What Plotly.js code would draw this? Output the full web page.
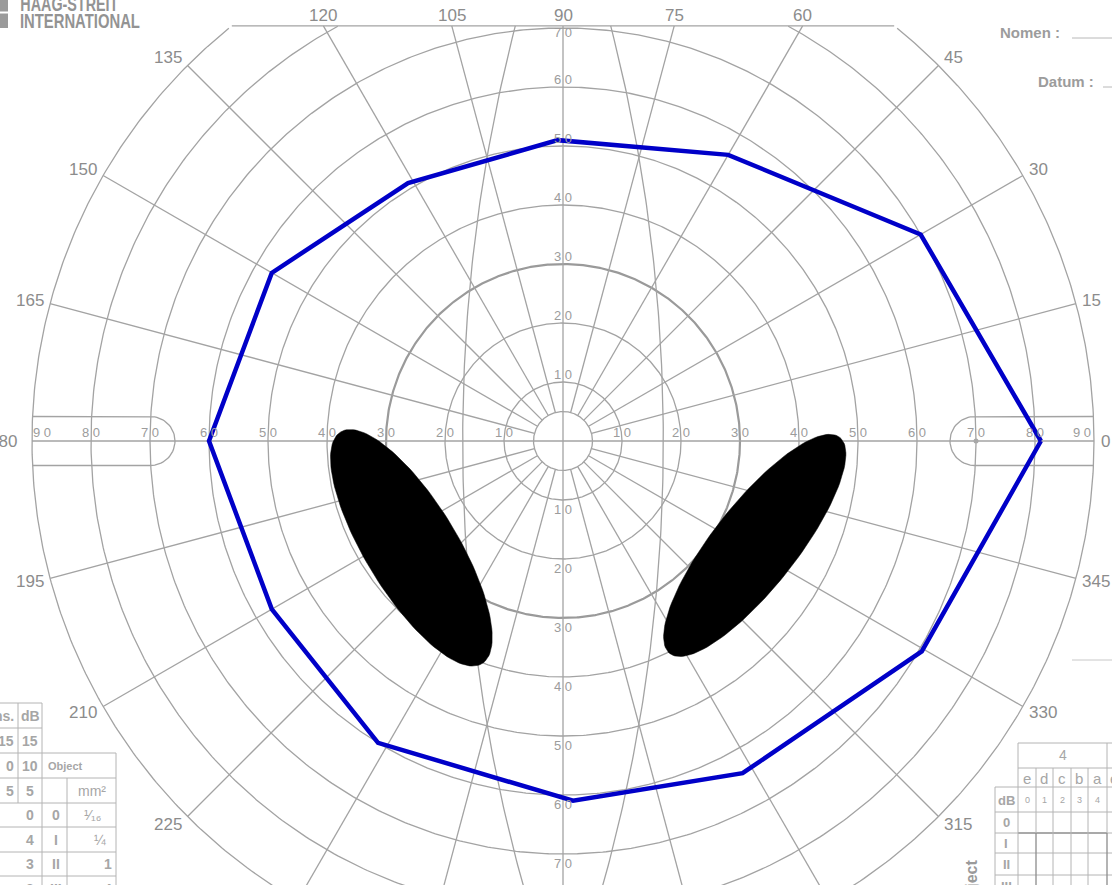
<!DOCTYPE html>
<html><head><meta charset="utf-8">
<script src="https://cdn.plot.ly/plotly-3.0.1.min.js"></script>
<style>html,body{margin:0;padding:0;background:#fff;overflow:hidden}#chart{width:1112px;height:885px}</style>
</head><body><div id="chart"></div>
<script>
// ---------------- data ----------------
// isopter vertices: meridian (deg) and eccentricity (deg)
const isopterMeridian     = [0, 30, 60, 91, 121, 150, 180, 210, 238.5, 271.6, 298.4, 329.6];
const isopterEccentricity = [81, 70, 56, 51, 51, 57, 60, 57, 60, 61, 64, 70.5];
// scotomas (filled ellipses): centre (deg), semi-axes (deg), tilt of major axis (deg)
const scotomaX     = [-25.7, 32.5];
const scotomaY     = [-18.1, -17.7];
const scotomaMajor = [23.0, 23.3];
const scotomaMinor = [7.8, 7.1];
const scotomaTilt  = [121.4, 51.8];
// chart grid
const ringValues     = [5, 10, 20, 30, 40, 50, 60, 70, 80, 90];
const ringLabelVals  = [10, 20, 30, 40, 50, 60, 70, 80, 90];
const ringLabelText  = ['1 0','2 0','3 0','4 0','5 0','6 0','7 0','8 0','9 0'];
const meridianAngles = [0,15,30,45,60,75,90,105,120,135,150,165,180,195,210,225,240,255,270,285,300,315,330,345];
const meridianLabels = ['0','15','30','45','60','75','90','105','120','135','150','165','180','195','210','225','240','255','270','285','300','315','330','345'];

// ---------------- geometry ----------------
const W = 1112, H = 885, CX = 563, CY = 441, S = 5.9;
const TOP = 70.35;           // upper edge of the printed form (deg)
const OUTER = 90;
const GRID = '#a3a3a3';
const TXT = '#969696';
const rad = d => d * Math.PI / 180;
const px = xp => (xp - CX) / S;
const py = yp => (CY - yp) / S;
const PX = xp => xp / W;
const PY = yp => 1 - yp / H;

const traces = [];
function lineTrace(xs, ys, color, width) {
  traces.push({type:'scatter', mode:'lines', x:xs, y:ys, line:{color:color, width:width},
               hoverinfo:'skip', showlegend:false, connectgaps:false});
}

// rings
function ringPts(r, xs, ys) {
  let open = false;
  for (let k = 0; k <= 720; k++) {
    const t = rad(k * 0.5);
    const x = r * Math.cos(t), y = r * Math.sin(t);
    if (y > TOP) { if (open) { xs.push(null); ys.push(null); open = false; } continue; }
    xs.push(x); ys.push(y); open = true;
  }
  xs.push(null); ys.push(null);
}
{
  const xs = [], ys = [];
  ringValues.filter(r => r !== 30).forEach(r => ringPts(r, xs, ys));
  lineTrace(xs, ys, GRID, 1.3);
  const x3 = [], y3 = [];
  ringPts(30, x3, y3);
  lineTrace(x3, y3, '#9a9a9a', 2.2);
}
// meridians
{
  const xs = [], ys = [];
  meridianAngles.forEach(a => {
    const c = Math.cos(rad(a)), s = Math.sin(rad(a));
    let r1 = OUTER;
    if (s > 1e-6) r1 = Math.min(OUTER, TOP / s);
    const r0 = (a % 90 === 0) ? 0 : 5;
    xs.push(r0 * c, r1 * c); ys.push(r0 * s, r1 * s);
    xs.push(null); ys.push(null);
  });
  // top edge of the form
  const xe = Math.sqrt(OUTER * OUTER - TOP * TOP);
  xs.push(-xe, xe, null); ys.push(TOP, TOP, null);
  lineTrace(xs, ys, GRID, 1.3);
}
// the two long curved near-vertical lines (about 17 deg each side at the horizontal meridian)
{
  const xs = [], ys = [];
  const R = 282, C = 265;
  [1, -1].forEach(side => {
    for (let y = -80; y <= TOP + 0.001; y += 1) {
      const yy = Math.min(y, TOP);
      xs.push(side * (Math.sqrt(R * R - yy * yy) - C)); ys.push(yy);
    }
    const yy = TOP;
    xs.push(side * (Math.sqrt(R * R - yy * yy) - C)); ys.push(yy);
    xs.push(null); ys.push(null);
  });
  lineTrace(xs, ys, GRID, 1.3);
}
// scale capsules on horizontal meridian
{
  const xs = [], ys = [];
  const hh = 4.15;
  [[-1, px(150.5)], [1, px(974.5)]].forEach(([side, xc]) => {
    const xo = side * Math.sqrt(OUTER * OUTER - hh * hh);
    xs.push(xo); ys.push(hh);
    for (let k = 0; k <= 36; k++) {
      const ang = side > 0 ? rad(90 + k * 5) : rad(90 - k * 5);
      xs.push(xc + hh * Math.cos(ang)); ys.push(hh * Math.sin(ang));
    }
    xs.push(xo); ys.push(-hh);
    xs.push(null); ys.push(null);
  });
  lineTrace(xs, ys, GRID, 1.3);
  traces.push({type:'scatter', mode:'markers', x:[70], y:[0], marker:{size:5, color:'#a8a8a8'},
               hoverinfo:'skip', showlegend:false});
}

// scotomas
for (let i = 0; i < scotomaX.length; i++) {
  const xs = [], ys = [];
  const phi = rad(scotomaTilt[i]);
  for (let k = 0; k <= 144; k++) {
    const t = 2 * Math.PI * k / 144;
    const ex = scotomaMajor[i] * Math.cos(t), ey = scotomaMinor[i] * Math.sin(t);
    xs.push(scotomaX[i] + ex * Math.cos(phi) - ey * Math.sin(phi));
    ys.push(scotomaY[i] + ex * Math.sin(phi) + ey * Math.cos(phi));
  }
  traces.push({type:'scatter', mode:'lines', x:xs, y:ys, fill:'toself', fillcolor:'#000000',
               line:{color:'#000000', width:0.5}, hoverinfo:'skip', showlegend:false});
}

// isopter
{
  const xs = [], ys = [];
  for (let i = 0; i <= isopterMeridian.length; i++) {
    const j = i % isopterMeridian.length;
    xs.push(isopterEccentricity[j] * Math.cos(rad(isopterMeridian[j])));
    ys.push(isopterEccentricity[j] * Math.sin(rad(isopterMeridian[j])));
  }
  traces.push({type:'scatter', mode:'lines', x:xs, y:ys, line:{color:'#0000c8', width:4.5},
               hoverinfo:'skip', showlegend:false});
}

// ---------------- annotations ----------------
const ann = [];
const font = (size, color, fam, weight) => ({size:size, color:color || TXT, family: fam || 'Liberation Sans, Arial, sans-serif', weight: weight || 400});
function dtext(x, y, t, size, opt) {
  ann.push(Object.assign({xref:'x', yref:'y', x:x, y:y, text:t, showarrow:false, font:font(size),
    xanchor:'center', yanchor:'middle'}, opt || {}));
}
function ptext(xp, yp, t, size, opt) {
  ann.push(Object.assign({xref:'paper', yref:'paper', x:PX(xp), y:PY(yp), text:t, showarrow:false,
    font:font(size), xanchor:'center', yanchor:'middle'}, opt || {}));
}

// ring labels on horizontal meridian
ringLabelVals.forEach((v, i) => {
  const xr = v === 90 ? 88.0 : v;
  const xl = v === 90 ? -88.3 : -v;
  dtext(xr, 1.4, ringLabelText[i], 13, {font:font(13, '#9c9c9c')});
  dtext(xl, 1.4, ringLabelText[i], 13, {font:font(13, '#9c9c9c')});
});
// ring labels on vertical meridian
ringLabelVals.filter(v => v <= 70).forEach((v, i) => {
  const yt = v === 70 ? 69.2 : v + 1.3;
  dtext(0, yt, ringLabelText[i], 13, {font:font(13, '#9c9c9c')});
  dtext(0, -(v + 1.6), ringLabelText[i], 13, {font:font(13, '#9c9c9c')});
});
// meridian labels
meridianAngles.forEach((a, i) => {
  const c = Math.cos(rad(a)), s = Math.sin(rad(a));
  if (s > 0.75) {
    dtext(TOP / Math.tan(rad(a)), TOP, meridianLabels[i], 17, {yanchor:'bottom', yshift:-1, font:font(17, '#8c8c8c')});
  } else {
    const r = OUTER + (a === 180 ? 2.2 : 0.8);
    dtext(r * c, r * s, meridianLabels[i], 17, {xanchor: c > 0.1 ? 'left' : (c < -0.1 ? 'right' : 'center'),
      yshift: s * 7, font:font(17, '#8c8c8c')});
  }
});

// logo (condensed after drawing)
const LOGO_FONT = 'Liberation Sans, Arial, sans-serif';
ptext(69, 4, 'HAAG-STREIT', 20, {font:font(20, '#939393', LOGO_FONT, 700)});
ptext(80, 21, 'INTERNATIONAL', 20, {font:font(20, '#939393', LOGO_FONT, 700)});
const condensed = {'HAAG-STREIT': 98, 'INTERNATIONAL': 120};
// header fields
ptext(1062, 32, 'Nomen :', 15, {xanchor:'right', font:font(15, '#9c9c9c', null, 700)});
ptext(1096, 81, 'Datum :', 15, {xanchor:'right', font:font(15, '#9c9c9c', null, 700)});

// bottom-left table text
const TT = '#a6a6a6';
const tl = [
  [16, 716, 'ns.', 'right', 700], [30, 716, 'dB', 'center', 700],
  [16, 741, '15', 'right', 700], [30, 741, '15', 'center', 700],
  [16, 766, '0', 'right', 700], [30, 766, '10', 'center', 700], [46, 766, 'Object', 'left', 700],
  [16, 791, '5', 'right', 700], [30, 791, '5', 'center', 700], [92, 791, 'mm²', 'center', 400],
  [30, 815, '0', 'center', 700], [56, 815, '0', 'center', 700], [92, 815, '¹⁄₁₆', 'center', 400],
  [30, 840, '4', 'center', 700], [56, 840, 'I', 'center', 700], [100, 840, '¼', 'center', 400],
  [30, 864, '3', 'center', 700], [56, 864, 'II', 'center', 700], [108, 864, '1', 'center', 700],
  [30, 889, '2', 'center', 700], [56, 889, 'III', 'center', 700], [108, 889, '4', 'center', 700]
];
tl.forEach(r => ptext(r[0], r[1], r[2], r[2] === 'Object' ? 11 : 14, {xanchor:r[3], font:font(r[2] === 'Object' ? 11 : 14, TT, null, r[4])}));

// bottom-right table text
ptext(1063, 755, '4', 14, {font:font(14, TT)});
const cols = [1027, 1044, 1062, 1079, 1097, 1114];
['e','d','c','b','a','e'].forEach((t, i) => ptext(cols[i], 778, t, 15, {font:font(15, TT)}));
['0','1','2','3','4','5'].forEach((t, i) => ptext(cols[i], 800, t, 9, {font:font(9, TT)}));
ptext(1006, 800, 'dB', 13, {font:font(13, TT, null, 700)});
ptext(1006, 822, '0', 13, {font:font(13, TT, null, 700)});
ptext(1006, 843, 'I', 13, {font:font(13, TT, null, 700)});
ptext(1006, 864, 'II', 13, {font:font(13, TT, null, 700)});
ptext(1006, 886, 'III', 13, {font:font(13, TT, null, 700)});
ptext(971, 885, 'Object', 16, {textangle:-90, font:font(16, '#9a9a9a', null, 700)});

// ---------------- shapes (form lines) ----------------
const shapes = [];
function seg(x0, y0, x1, y1, color, w) {
  shapes.push({type:'line', xref:'paper', yref:'paper', x0:PX(x0), y0:PY(y0), x1:PX(x1), y1:PY(y1),
               line:{color:color || '#b4b4b4', width:w || 1}});
}
// logo blocks
shapes.push({type:'rect', xref:'paper', yref:'paper', x0:PX(0), x1:PX(8), y0:PY(0), y1:PY(11.5), fillcolor:'#9a9a9a', line:{width:0}});
shapes.push({type:'rect', xref:'paper', yref:'paper', x0:PX(0), x1:PX(8), y0:PY(13.5), y1:PY(28), fillcolor:'#9a9a9a', line:{width:0}});
// header underlines
seg(1072, 38, 1112, 38, '#b8b8b8', 1);
seg(1103, 87, 1112, 87, '#b8b8b8', 1);
seg(1072, 660, 1112, 660, '#c8c8c8', 1);
// bottom-left table
[[703, 0, 42], [728, 0, 42], [753, 0, 116], [778, 0, 116], [803, 0, 116], [827, 0, 116], [852, 0, 116], [876, 0, 116]]
  .forEach(r => seg(r[1], r[0], r[2], r[0]));
seg(18, 703, 18, 803); seg(42, 703, 42, 885); seg(116, 753, 116, 885); seg(67, 778, 67, 885);
// bottom-right table
seg(1018, 743, 1112, 743); seg(1018, 768, 1112, 768);
[787, 812, 853, 875].forEach(y => seg(995, y, 1112, y));
seg(1018, 833, 1107, 833, '#8c8c8c', 1.3); seg(995, 833, 1018, 833); seg(1107, 833, 1112, 833);
seg(995, 787, 995, 885); seg(1018, 743, 1018, 885);
[1053, 1071, 1088].forEach(x => seg(x, 768, x, 885));
seg(1036, 768, 1036, 833); seg(1036, 833, 1036, 885, '#8c8c8c', 1.3);
seg(1107, 743, 1107, 833); seg(1107, 833, 1107, 885, '#8c8c8c', 1.3);

const layout = {
  width: W, height: H, margin: {l:0, r:0, t:0, b:0, pad:0},
  paper_bgcolor: '#ffffff', plot_bgcolor: '#ffffff', showlegend: false,
  xaxis: {range:[px(0), px(W)], visible:false, fixedrange:true},
  yaxis: {range:[py(H), py(0)], visible:false, fixedrange:true},
  annotations: ann, shapes: shapes
};
Plotly.newPlot('chart', traces, layout, {staticPlot:true, displayModeBar:false}).then(gd => {
  gd.querySelectorAll('text.annotation-text').forEach(t => {
    const L = condensed[t.textContent];
    if (L) { t.setAttribute('textLength', L); t.setAttribute('lengthAdjust', 'spacingAndGlyphs'); }
  });
});
</script>
</body></html>
